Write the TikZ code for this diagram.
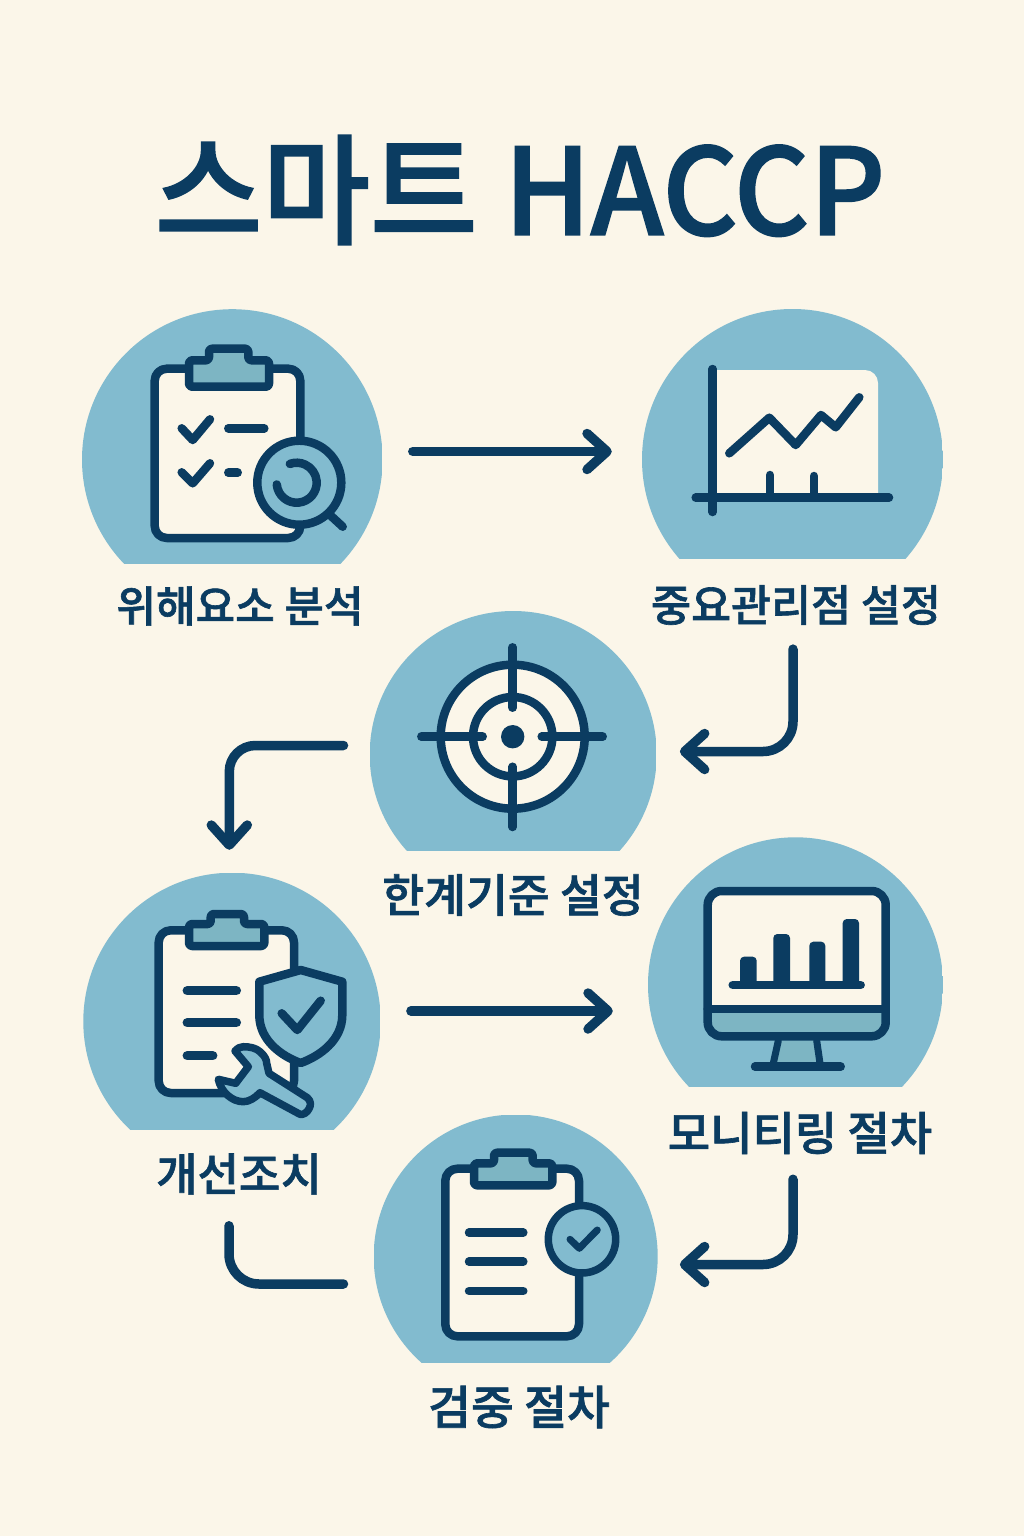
\documentclass[tikz,border=0pt]{standalone}
\usepackage{fontspec}
\setmainfont{Noto Sans CJK KR}
\newfontfamily\titlefont[FakeBold=1.4]{Noto Sans CJK KR Medium}
\usetikzlibrary{arrows.meta}
\definecolor{paper}{HTML}{FBF6E9}
\definecolor{navy}{HTML}{0B3C61}
\definecolor{disc}{HTML}{82BBCF}
\definecolor{tabfill}{HTML}{7DB5C3}
\tikzset{
  blob/.style 2 args={circle,minimum size=#1,inner sep=0pt,
    path picture={\fill[disc] (path picture bounding box.north west) rectangle ([yshift=-#2]path picture bounding box.east);}},
  caption/.style={text=navy,font=\fontsize{#1}{50pt}\selectfont\titlefont,inner sep=0pt},
  icon/.style={draw=navy,line width=8.5pt,line cap=round,line join=round},
  flow/.style={draw=navy,line width=9.5pt,line cap=round,line join=round},
  tip/.style={-{Straight Barb[length=20pt,width=36pt,round]}}
}
\begin{document}
\begin{tikzpicture}[x=1pt,y=-1pt]
\useasboundingbox (0,0) rectangle (1024,1536);
\fill[paper] (0,0) rectangle (1024,1536);

\node[text=navy,font=\fontsize{120pt}{130pt}\selectfont\titlefont,inner sep=0pt,xscale=.975] (title) at (520,190) {스마트 HACCP};

% discs
\node[blob={300.6pt}{104.5pt}] (hazard) at (232.3,459.5) {};
\node[blob={301pt}{99pt}] (ccp) at (792.5,459.5) {};
\node[blob={287pt}{96.5pt}] (limit) at (513.2,754.5) {};
\node[blob={297.4pt}{108.6pt}] (action) at (232,1021.4) {};
\node[blob={295pt}{102.2pt}] (monitor) at (795.5,984.8) {};
\node[blob={284pt}{106.5pt}] (verify) at (515.7,1256.5) {};

% captions
\node[caption=43pt] (hazardtext) at (240,606) {위해요소 분석};
\node[caption=43.5pt] (ccptext) at (796,605) {중요관리점 설정};
\node[caption=45.5pt] (limittext) at (513,895) {한계기준 설정};
\node[caption=45pt] (actiontext) at (239,1174) {개선조치};
\node[caption=46pt] (monitortext) at (800,1133) {모니티링 절차};
\node[caption=46.5pt] (verifytext) at (519,1407) {검중 절차};

% connectors
\draw[flow,tip] ([xshift=30pt,yshift=8pt]hazard.east) -- ([xshift=-30pt,yshift=8pt]ccp.west);
\draw[flow,tip,rounded corners=30pt] ([xshift=-3pt,yshift=-24pt]ccptext.south) |- ([xshift=23pt,yshift=3pt]limit.east);
\draw[flow,tip,rounded corners=26pt] ([xshift=-26pt,yshift=9pt]limit.west) -| ([xshift=-2.7pt,yshift=22.7pt]action.north);
\draw[flow,tip] ([xshift=30pt,yshift=10.4pt]action.east) -- ([xshift=-35pt,yshift=10.4pt]monitor.west |- action.east);
\draw[flow,tip,rounded corners=30pt] ([xshift=-7pt,yshift=-25pt]monitortext.south) |- ([xshift=22pt,yshift=-8pt]verify.east);
\draw[flow,rounded corners=30pt] ([xshift=-30pt,yshift=-27.5pt]verify.west) -| ([xshift=-10pt,yshift=-31pt]actiontext.south);

% hazard icon
\draw[icon,fill=paper,rounded corners=12pt] (154.7,368.7) rectangle (300.3,538);
\draw[icon,fill=tabfill,rounded corners=3pt] (189,386.7) -- (189,360.3) -- (209,360.3) -- (209,348.7) -- (248.3,348.7) -- (248.3,360.3) -- (269,360.3) -- (269,386.7) -- cycle;
\draw[icon] (181.7,428.3) -- (192.7,440) -- (210,419.3);
\draw[icon] (181.7,472.3) -- (192.7,483.3) -- (210,463.3);
\draw[icon] (228.3,428.3) -- (264.3,428.3);
\draw[icon] (228.3,472.7) -- (237.7,472.7);
\draw[icon] (330,515) -- (342.7,526.7);
\draw[icon,fill=disc] (299.3,482.7) circle[radius=42pt];
\draw[icon] ([shift={(185:20pt)}]296.7,482.7) arc[start angle=185,end angle=470,radius=20pt];

% ccp icon
\fill[paper] (717,493) -- (717,370) [rounded corners=13pt] -- (878,370) [sharp corners] -- (878,493) -- cycle;
\draw[icon] (712.7,369) -- (712.7,512);
\draw[icon] (695.7,497.7) -- (889,497.7);
\draw[icon] (770,475) -- (770,497.7);
\draw[icon] (814,476) -- (814,497.7);
\draw[icon] (729.3,453.3) -- (769.3,417.7) -- (795.7,445) -- (821,415) -- (835.7,427.3) -- (859.3,397.3);

% limit icon
\draw[icon,fill=paper] (512.7,736.7) circle[radius=72pt];
\draw[icon] (512.7,736.7) circle[radius=39.7pt];
\fill[navy] (512.7,736.7) circle[radius=11.7pt];
\draw[icon] (512.7,647.3) -- (512.7,707.7);
\draw[icon] (512.7,766.7) -- (512.7,827);
\draw[icon] (421.3,736.7) -- (482.7,736.7);
\draw[icon] (541.7,736.7) -- (602.7,736.7);

% action icon
\draw[icon,fill=paper,rounded corners=12pt] (158.7,930.3) rectangle (294,1093);
\draw[icon,fill=tabfill,rounded corners=3pt] (189,946) -- (189,924) -- (210.7,924) -- (210.7,914) -- (244,914) -- (244,924) -- (264.3,924) -- (264.3,946) -- cycle;
\draw[icon,line width=9.5pt] (187.3,990.7) -- (236.3,990.7);
\draw[icon,line width=9.5pt] (187.3,1022.7) -- (236.3,1022.7);
\draw[icon,line width=9.5pt] (187.3,1055.7) -- (212.7,1055.7);
\draw[icon,fill=disc] (259.3,981.7) -- (300.7,970) -- (342.3,981.7) -- (342.3,1015) .. controls (342.3,1040) and (320,1056) .. (300.7,1063) .. controls (281,1056) and (259.3,1040) .. (259.3,1015) -- cycle;
\draw[icon] (281.7,1013.3) -- (297.3,1030) -- (320.7,1000.7);
\draw[icon,line width=7.5pt,fill=disc] (235,1051) .. controls (238,1048) and (240,1046.7) .. (243.3,1046.7) .. controls (250,1046.7) and (256,1048) .. (260,1051.7) .. controls (265,1056) and (266.7,1060) .. (266.7,1063.3) -- (269,1073.3) -- (307.3,1097.7) .. controls (311,1101) and (311,1105) .. (309.3,1108.3) .. controls (307,1113) and (303,1115) .. (300,1114.3) -- (260,1092.7) .. controls (255,1098) and (249,1101.7) .. (243.3,1101.7) .. controls (232,1101.7) and (221,1092) .. (218.3,1079.3) -- (235.7,1083.3) -- (248.3,1066.7) -- cycle;

% monitor icon
\fill[paper,rounded corners=14pt] (707.7,891) rectangle (885.7,1036.3);
\fill[tabfill] (707.7,1009) [rounded corners=14pt] -- (707.7,1036.3) -- (885.7,1036.3) [sharp corners] -- (885.7,1009) -- cycle;
\fill[tabfill] (778.3,1040.7) -- (816.7,1040.7) -- (820,1063.3) -- (773.3,1063.3) -- cycle;
\draw[icon,rounded corners=14pt] (707.7,891) rectangle (885.7,1036.3);
\draw[icon] (707.7,1009) -- (885.7,1009);
\draw[icon,line width=7pt] (778.3,1040.7) -- (773.3,1063.3);
\draw[icon,line width=7pt] (816.7,1040.7) -- (820,1063.3);
\draw[icon] (755,1066.7) -- (840.7,1066.7);
\fill[navy,rounded corners=4pt] (740,985) rectangle (756.7,956.7);
\fill[navy,rounded corners=4pt] (773.3,985) rectangle (790,934);
\fill[navy,rounded corners=4pt] (809.3,985) rectangle (825.3,941.7);
\fill[navy,rounded corners=4pt] (842.7,985) rectangle (859,919);
\draw[icon] (732.7,985) -- (860.7,985);

% verify icon
\draw[icon,fill=paper,rounded corners=12pt] (445.3,1168.7) rectangle (579,1336.3);
\draw[icon,fill=tabfill,rounded corners=3pt] (474,1185.3) -- (474,1163.3) -- (494,1163.3) -- (494,1152.7) -- (532.7,1152.7) -- (532.7,1163.3) -- (552.3,1163.3) -- (552.3,1185.3) -- cycle;
\draw[icon] (469,1232.7) -- (523.3,1232.7);
\draw[icon] (469,1261.7) -- (523.3,1261.7);
\draw[icon] (469,1291) -- (523.3,1291);
\draw[icon,line width=7.5pt,fill=disc] (582,1239.3) circle[radius=33.7pt];
\draw[icon,line width=7pt] (570,1239.3) -- (579.3,1248.3) -- (597.3,1230);
\end{tikzpicture}
\end{document}
